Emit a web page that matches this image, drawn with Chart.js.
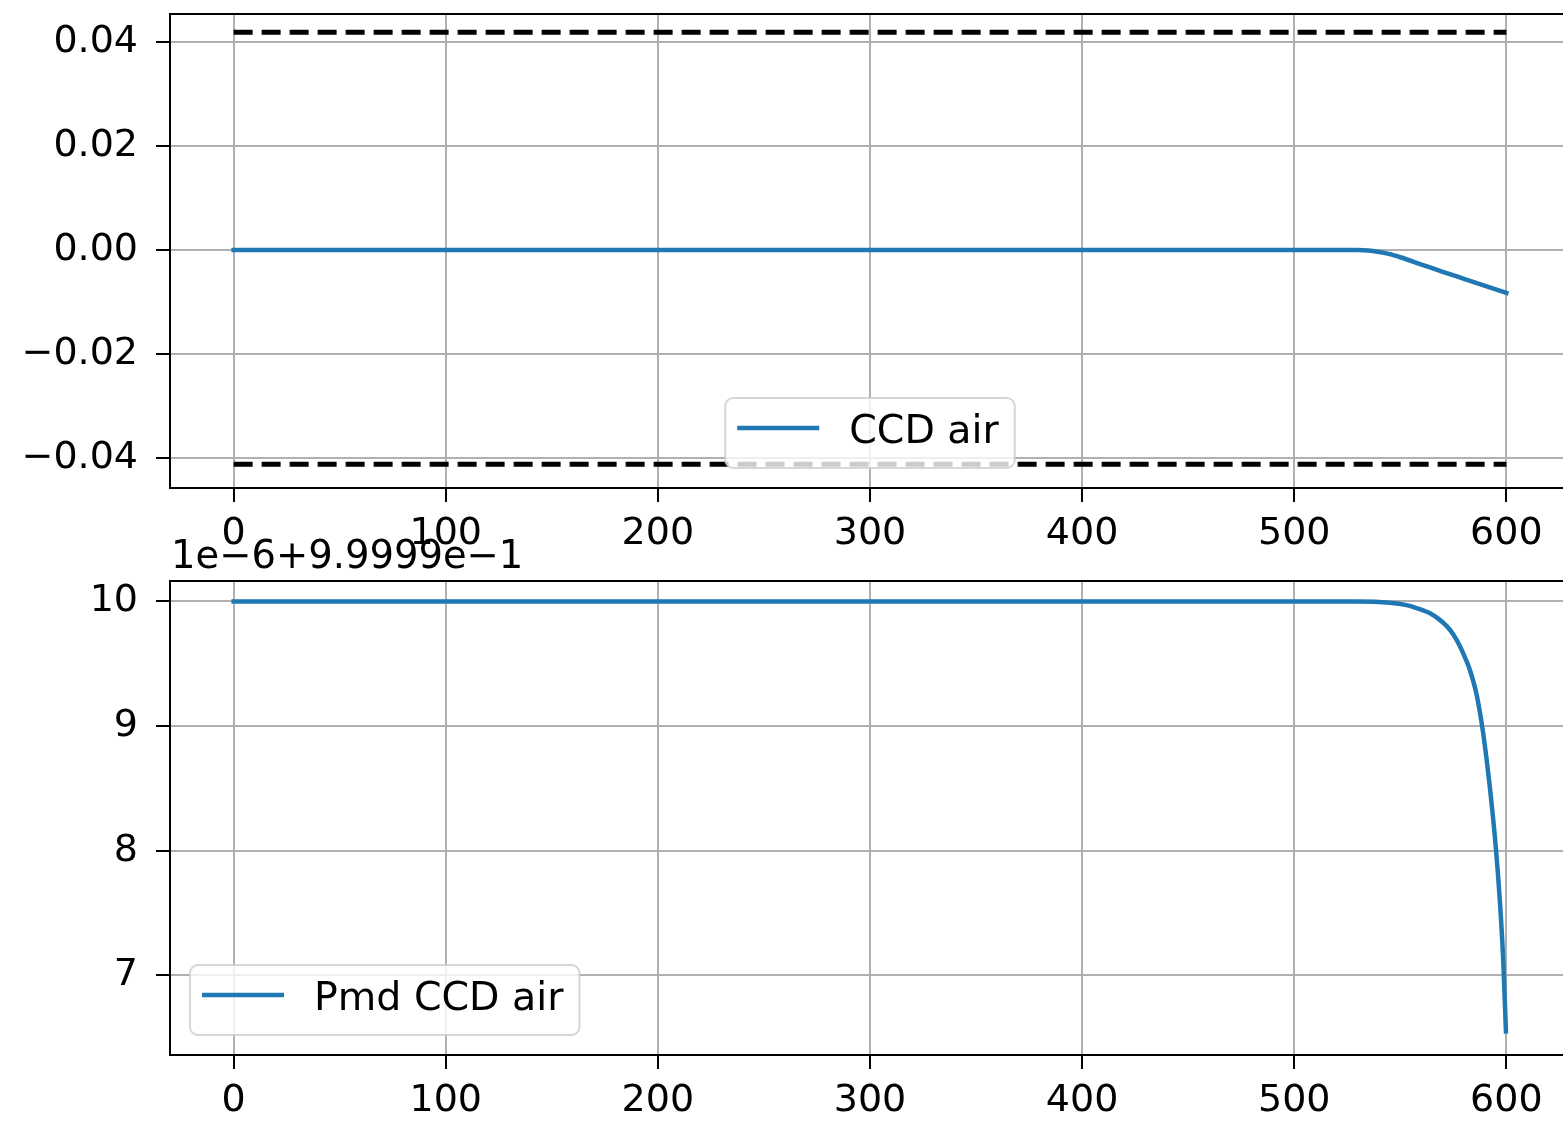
<!DOCTYPE html>
<html>
<head>
<meta charset="utf-8">
<script src="https://cdn.jsdelivr.net/npm/chart.js@4.4.0/dist/chart.umd.min.js"></script>
<style>
  html, body { margin: 0; padding: 0; background: #fff; overflow: hidden; width: 1563px; height: 1125px; }
  canvas { position: absolute; left: 0; }
  #topChart { top: 0; }
  #bottomChart { top: 530px; }
</style>
</head>
<body>
<canvas id="topChart" width="1600" height="560"></canvas>
<canvas id="bottomChart" width="1600" height="595"></canvas>
<script>
// --- data ---
const xTicks = [0, 100, 200, 300, 400, 500, 600];

// top panel: CCD air + dashed limits
const ccdX = [0, 100, 200, 300, 400, 500, 525, 530, 535, 540, 545, 550, 560, 570, 580, 590, 600];
const ccdY = [0, 0, 0, 0, 0, 0, 0, 0, -0.0001, -0.0004, -0.0008, -0.0014, -0.0028, -0.0042, -0.00555, -0.0069, -0.00825];
const limitX = [0, 600];
const upperLimit = [0.04186, 0.04186];
const lowerLimit = [-0.04124, -0.04124];
const topYTicks = [-0.04, -0.02, 0, 0.02, 0.04];

// bottom panel: Pmd CCD air, in units of 1e-6 above 0.99999
const pmdX = [0, 100, 200, 300, 400, 500, 530, 545, 553, 558, 564, 568, 572, 575, 578, 581, 583, 586, 589, 592, 595, 597, 598.5, 599.8];
const pmdY = [10, 10, 10, 10, 10, 10, 10, 9.99, 9.97, 9.945, 9.905, 9.86, 9.80, 9.735, 9.645, 9.53, 9.44, 9.25, 8.95, 8.54, 8.03, 7.58, 7.13, 6.55];
const bottomYTicks = [7, 8, 9, 10];
const offsetLabel = '1e\u22126+9.9999e\u22121';

const BLUE = '#1f77b4';
const FONT = '"DejaVu Sans", sans-serif';
const TICK_SIZE = 38;
const LEGEND_SIZE = 39.5;
const OFFSET_SIZE = 38.5;

Chart.defaults.font.family = FONT;
Chart.defaults.font.size = TICK_SIZE;
Chart.defaults.color = '#000';

const toPoints = (xs, ys) => xs.map((x, i) => ({ x: x, y: ys[i] }));

// top + right spines (chart.js only draws left/bottom)
const frame = {
  id: 'frame',
  afterDatasetsDraw(chart) {
    const { ctx, chartArea: a } = chart;
    ctx.save();
    ctx.strokeStyle = '#000';
    ctx.lineWidth = 2;
    ctx.beginPath();
    ctx.moveTo(a.left, a.top);
    ctx.lineTo(a.right, a.top);
    ctx.lineTo(a.right, a.bottom);
    ctx.stroke();
    ctx.restore();
  }
};

// matplotlib-like legend inside the axes
const insideLegend = {
  id: 'insideLegend',
  afterDraw(chart, args, opts) {
    const { ctx, chartArea: a } = chart;
    const ds = chart.data.datasets.find(d => d.label);
    if (!ds) return;
    ctx.save();
    ctx.font = LEGEND_SIZE + 'px ' + FONT;
    const textW = ctx.measureText(ds.label).width;
    const w = 12 + 82 + 30 + textW + 16;
    const h = 70;
    const left = opts.loc === 'lower center' ? (a.left + a.right) / 2 - w / 2 : a.left + 20;
    const top = a.bottom - 20 - h;
    ctx.beginPath();
    ctx.roundRect(left, top, w, h, 8);
    ctx.fillStyle = 'rgba(255,255,255,0.8)';
    ctx.fill();
    ctx.strokeStyle = 'rgba(204,204,204,0.8)';
    ctx.lineWidth = 2;
    ctx.stroke();
    ctx.strokeStyle = ds.borderColor;
    ctx.lineWidth = ds.borderWidth;
    ctx.beginPath();
    ctx.moveTo(left + 12, top + 30);
    ctx.lineTo(left + 94, top + 30);
    ctx.stroke();
    ctx.fillStyle = '#000';
    ctx.textBaseline = 'alphabetic';
    ctx.textAlign = 'left';
    ctx.fillText(ds.label, left + 124, top + 45);
    ctx.restore();
  }
};

// y offset text above the axes
const offsetText = {
  id: 'offsetText',
  afterDraw(chart, args, opts) {
    if (!opts.text) return;
    const { ctx, chartArea: a } = chart;
    ctx.save();
    ctx.font = OFFSET_SIZE + 'px ' + FONT;
    ctx.fillStyle = '#000';
    ctx.textAlign = 'left';
    ctx.textBaseline = 'alphabetic';
    ctx.fillText(opts.text, a.left + 1, a.top - 13);
    ctx.restore();
  }
};

function axisStyle() {
  return {
    grid: { color: '#b0b0b0', lineWidth: 2, drawTicks: true, tickLength: 14, tickColor: '#000', tickWidth: 2 },
    border: { color: '#000', width: 2 }
  };
}

function makeOptions(cfg) {
  return {
    responsive: false,
    animation: false,
    layout: { padding: { top: cfg.padTop, right: 30, left: 0, bottom: 0 } },
    plugins: {
      legend: { display: false },
      tooltip: { enabled: false },
      insideLegend: { loc: cfg.legendLoc },
      offsetText: { text: cfg.offset }
    },
    scales: {
      x: {
        type: 'linear',
        min: -30,
        max: 630,
        ...axisStyle(),
        afterBuildTicks: axis => { axis.ticks = xTicks.map(v => ({ value: v })); },
        afterFit: axis => { axis.height = cfg.xHeight; axis.paddingLeft = 0; axis.paddingRight = 0; },
        ticks: { autoSkip: false, maxRotation: 0, padding: 9, callback: v => String(v) }
      },
      y: {
        type: 'linear',
        min: cfg.yMin,
        max: cfg.yMax,
        ...axisStyle(),
        afterBuildTicks: axis => { axis.ticks = cfg.yTicks.map(v => ({ value: v })); },
        afterFit: axis => { axis.width = 170; axis.paddingTop = 0; axis.paddingBottom = 0; },
        ticks: { autoSkip: false, padding: 18, callback: cfg.yFormat }
      }
    }
  };
}

const minusFmt = s => s.replace('-', '\u2212');

new Chart(document.getElementById('topChart').getContext('2d'), {
  type: 'line',
  data: {
    datasets: [
      {
        data: toPoints(limitX, upperLimit),
        borderColor: '#000', borderWidth: 5, borderDash: [19, 9], pointRadius: 0, tension: 0
      },
      {
        data: toPoints(limitX, lowerLimit),
        borderColor: '#000', borderWidth: 5, borderDash: [19, 9], pointRadius: 0, tension: 0
      },
      {
        label: 'CCD air',
        data: toPoints(ccdX, ccdY),
        borderColor: BLUE, borderWidth: 4.5, borderCapStyle: 'square', pointRadius: 0,
        cubicInterpolationMode: 'monotone'
      }
    ]
  },
  options: makeOptions({
    padTop: 14, xHeight: 72,
    yMin: -0.04579, yMax: 0.04539, yTicks: topYTicks,
    yFormat: v => minusFmt(Number(v).toFixed(2)),
    legendLoc: 'lower center', offset: null
  }),
  plugins: [frame, insideLegend, offsetText]
});

new Chart(document.getElementById('bottomChart').getContext('2d'), {
  type: 'line',
  data: {
    datasets: [
      {
        label: 'Pmd CCD air',
        data: toPoints(pmdX, pmdY),
        borderColor: BLUE, borderWidth: 4.5, borderCapStyle: 'square', pointRadius: 0,
        cubicInterpolationMode: 'monotone'
      }
    ]
  },
  options: makeOptions({
    padTop: 51, xHeight: 70,
    yMin: 6.36, yMax: 10.164, yTicks: bottomYTicks,
    yFormat: v => String(v),
    legendLoc: 'lower left', offset: offsetLabel
  }),
  plugins: [frame, insideLegend, offsetText]
});
</script>
</body>
</html>
